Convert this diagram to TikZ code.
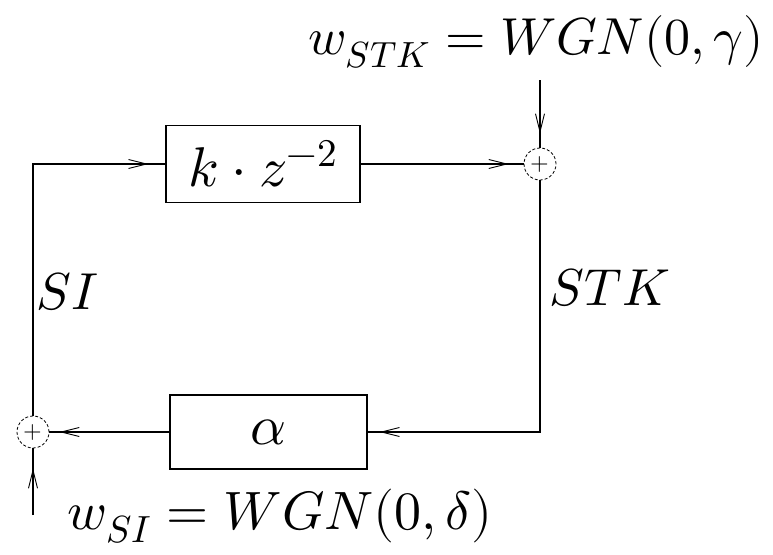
\documentclass[tikz,border=0pt]{standalone}
\usepackage{unicode-math}
\setmathfont{Latin Modern Math}
\usetikzlibrary{arrows.meta,decorations.markings}
\begin{document}
\begin{tikzpicture}[x=1pt,y=1pt,
  line width=1.2pt,
  blk/.style={draw,line width=1.2pt,inner sep=0pt,minimum width=#1},
  sumnode/.style={draw,circle,densely dashed,line width=0.8pt,minimum size=32pt,inner sep=0pt},
  arrowat/.style={postaction={decorate,decoration={markings,
     mark=at position #1 with {\arrow{Straight Barb[length=18pt,width=9pt,line width=0.9pt]}}}}},
  lbl/.style={font=\fontsize{52}{58}\selectfont,inner sep=0pt}
]
\useasboundingbox (0,0) rectangle (773,-554);
\node[blk=194pt,minimum height=77pt] (b1) at (263,-164) {\fontsize{56}{60}\selectfont$k\cdot z^{-2}$};
\node[blk=197pt,minimum height=74pt] (b2) at (268.5,-432) {\fontsize{56}{60}\selectfont$\alpha$};
\node[sumnode] (s1) at (540,-164) {\fontsize{24}{24}\selectfont$+$};
\node[sumnode] (s2) at (33,-432) {\fontsize{24}{24}\selectfont$+$};
\coordinate (n1) at (540,-80);
\coordinate (n2) at (33,-515);
\draw[arrowat=-17pt] (s2.north) |- (b1.west);
\draw[arrowat=-15pt] (b1.east) -- (s1.west);
\draw[arrowat=-12pt] (s1.south) |- (b2.east);
\draw[arrowat=-10pt] (b2.west) -- (s2.east);
\draw[arrowat=-14pt] (n1) -- (s1.north);
\draw[arrowat=-20pt] (n2) -- (s2.south);
\node[lbl,font=\fontsize{52}{58}\selectfont] (t1) at (536,-42) {$w_{STK}=WGN(0,\gamma)$};
\node[lbl,font=\fontsize{54}{60}\selectfont] (t2) at (280,-516) {$w_{SI}=WGN(0,\delta)$};
\node[lbl] (t3) at (68,-292) {$SI$};
\node[lbl] (t4) at (610,-288) {$STK$};
\end{tikzpicture}
\end{document}
